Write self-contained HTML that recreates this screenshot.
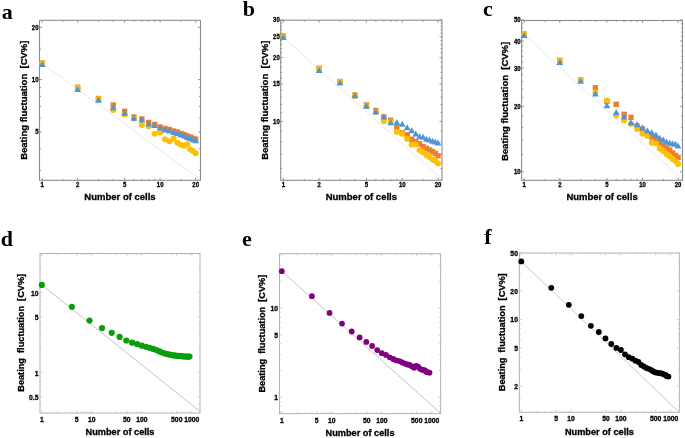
<!DOCTYPE html>
<html><head><meta charset="utf-8"><style>
html,body{margin:0;padding:0;background:#fff;}
svg{display:block;filter:blur(0.55px);}
.t{font-family:"Liberation Sans",sans-serif;font-weight:bold;fill:#000;stroke:#000;stroke-width:0.3px;}
.L{font-family:"Liberation Serif",serif;font-weight:bold;font-size:22px;fill:#000;}
</style></head><body>
<svg width="685" height="438" viewBox="0 0 685 438">
<rect width="685" height="438" fill="#fff"/>
<clipPath id="cpa"><rect x="39.5" y="20.3" width="161" height="160"/></clipPath>
<line x1="42.2" y1="63.2" x2="200.5" y2="179.92" stroke="#e6e6ee" stroke-width="1" clip-path="url(#cpa)"/>
<rect x="39.5" y="20.3" width="161" height="160" fill="none" stroke="#8e8e8e" stroke-width="1.1"/>
<path d="M42.2 180.3v-2.5M42.2 20.3v2.5M77.7 180.3v-2.5M77.7 20.3v2.5M124.63 180.3v-2.5M124.63 20.3v2.5M160.13 180.3v-2.5M160.13 20.3v2.5M195.63 180.3v-2.5M195.63 20.3v2.5M62.97 180.3v-1.5M62.97 20.3v1.5M98.47 180.3v-1.5M98.47 20.3v1.5M113.2 180.3v-1.5M113.2 20.3v1.5M133.97 180.3v-1.5M133.97 20.3v1.5M141.86 180.3v-1.5M141.86 20.3v1.5M148.7 180.3v-1.5M148.7 20.3v1.5M154.73 180.3v-1.5M154.73 20.3v1.5M180.89 180.3v-1.5M180.89 20.3v1.5M39.5 131.95h2.5M200.5 131.95h-2.5M39.5 79.6h2.5M200.5 79.6h-2.5M39.5 27.25h2.5M200.5 27.25h-2.5M39.5 170.53h1.5M200.5 170.53h-1.5M39.5 148.8h1.5M200.5 148.8h-1.5M39.5 118.18h1.5M200.5 118.18h-1.5M39.5 106.54h1.5M200.5 106.54h-1.5M39.5 96.45h1.5M200.5 96.45h-1.5M39.5 87.56h1.5M200.5 87.56h-1.5M39.5 48.98h1.5M200.5 48.98h-1.5" stroke="#808080" stroke-width="0.8" fill="none"/>
<text transform="translate(42.2 187) scale(0.88 1)" font-size="6.8" text-anchor="middle" class="t">1</text>
<text transform="translate(77.7 187) scale(0.88 1)" font-size="6.8" text-anchor="middle" class="t">2</text>
<text transform="translate(124.63 187) scale(0.88 1)" font-size="6.8" text-anchor="middle" class="t">5</text>
<text transform="translate(160.13 187) scale(0.88 1)" font-size="6.8" text-anchor="middle" class="t">10</text>
<text transform="translate(195.63 187) scale(0.88 1)" font-size="6.8" text-anchor="middle" class="t">20</text>
<text transform="translate(38.5 134.47) scale(0.88 1)" font-size="6.8" text-anchor="end" class="t">5</text>
<text transform="translate(38.5 82.12) scale(0.88 1)" font-size="6.8" text-anchor="end" class="t">10</text>
<text transform="translate(38.5 29.77) scale(0.88 1)" font-size="6.8" text-anchor="end" class="t">20</text>
<text x="120" y="199.5" font-size="9.5" text-anchor="middle" class="t">Number of cells</text>
<text transform="translate(27.2 100.2) rotate(-90)" x="0" y="0" font-size="9.5" text-anchor="middle" class="t" xml:space="preserve">Beating fluctuation  [CV%]</text>
<text x="1.8" y="18.5" class="L">a</text>
<rect x="39.5" y="60.3" width="5.4" height="5.4" fill="#ED7D31"/>
<rect x="75" y="84.6" width="5.4" height="5.4" fill="#ED7D31"/>
<rect x="95.77" y="95.8" width="5.4" height="5.4" fill="#ED7D31"/>
<rect x="110.5" y="102.3" width="5.4" height="5.4" fill="#ED7D31"/>
<rect x="121.93" y="108.6" width="5.4" height="5.4" fill="#ED7D31"/>
<rect x="131.27" y="114.3" width="5.4" height="5.4" fill="#ED7D31"/>
<rect x="139.16" y="116.3" width="5.4" height="5.4" fill="#ED7D31"/>
<rect x="146" y="119.8" width="5.4" height="5.4" fill="#ED7D31"/>
<rect x="152.03" y="121.8" width="5.4" height="5.4" fill="#ED7D31"/>
<rect x="157.43" y="124.3" width="5.4" height="5.4" fill="#ED7D31"/>
<rect x="162.31" y="125.8" width="5.4" height="5.4" fill="#ED7D31"/>
<rect x="166.77" y="126.8" width="5.4" height="5.4" fill="#ED7D31"/>
<rect x="170.87" y="128.3" width="5.4" height="5.4" fill="#ED7D31"/>
<rect x="174.66" y="129.3" width="5.4" height="5.4" fill="#ED7D31"/>
<rect x="178.19" y="130.8" width="5.4" height="5.4" fill="#ED7D31"/>
<rect x="181.5" y="131.9" width="5.4" height="5.4" fill="#ED7D31"/>
<rect x="184.6" y="133.3" width="5.4" height="5.4" fill="#ED7D31"/>
<rect x="187.53" y="134.3" width="5.4" height="5.4" fill="#ED7D31"/>
<rect x="190.3" y="135.5" width="5.4" height="5.4" fill="#ED7D31"/>
<rect x="192.93" y="136.5" width="5.4" height="5.4" fill="#ED7D31"/>
<circle cx="42.2" cy="63.5" r="3" fill="#FFC000"/>
<circle cx="77.7" cy="88" r="3" fill="#FFC000"/>
<circle cx="98.47" cy="99" r="3" fill="#FFC000"/>
<circle cx="113.2" cy="110" r="3" fill="#FFC000"/>
<circle cx="124.63" cy="114.5" r="3" fill="#FFC000"/>
<circle cx="133.97" cy="118.5" r="3" fill="#FFC000"/>
<circle cx="141.86" cy="125" r="3" fill="#FFC000"/>
<circle cx="148.7" cy="126.3" r="3" fill="#FFC000"/>
<circle cx="154.73" cy="133.7" r="3" fill="#FFC000"/>
<circle cx="160.13" cy="132.5" r="3" fill="#FFC000"/>
<circle cx="165.01" cy="139.2" r="3" fill="#FFC000"/>
<circle cx="169.47" cy="141.2" r="3" fill="#FFC000"/>
<circle cx="173.57" cy="138.6" r="3" fill="#FFC000"/>
<circle cx="177.36" cy="142.7" r="3" fill="#FFC000"/>
<circle cx="180.89" cy="144.8" r="3" fill="#FFC000"/>
<circle cx="184.2" cy="145.8" r="3" fill="#FFC000"/>
<circle cx="187.3" cy="144.3" r="3" fill="#FFC000"/>
<circle cx="190.23" cy="149.4" r="3" fill="#FFC000"/>
<circle cx="193" cy="151" r="3" fill="#FFC000"/>
<circle cx="195.63" cy="153.2" r="3" fill="#FFC000"/>
<path d="M42.2 61L45.56 67L38.84 67Z" fill="#4F95D6"/>
<path d="M77.7 86L81.06 92L74.34 92Z" fill="#4F95D6"/>
<path d="M98.47 96.8L101.83 102.8L95.11 102.8Z" fill="#4F95D6"/>
<path d="M113.2 104.3L116.56 110.3L109.84 110.3Z" fill="#4F95D6"/>
<path d="M124.63 109.8L127.99 115.8L121.27 115.8Z" fill="#4F95D6"/>
<path d="M133.97 114.8L137.33 120.8L130.61 120.8Z" fill="#4F95D6"/>
<path d="M141.86 116.6L145.22 122.6L138.5 122.6Z" fill="#4F95D6"/>
<path d="M148.7 120.5L152.06 126.5L145.34 126.5Z" fill="#4F95D6"/>
<path d="M154.73 122L158.09 128L151.37 128Z" fill="#4F95D6"/>
<path d="M160.13 124.5L163.49 130.5L156.77 130.5Z" fill="#4F95D6"/>
<path d="M165.01 126.4L168.37 132.4L161.65 132.4Z" fill="#4F95D6"/>
<path d="M169.47 127.4L172.83 133.4L166.11 133.4Z" fill="#4F95D6"/>
<path d="M173.57 129L176.93 135L170.21 135Z" fill="#4F95D6"/>
<path d="M177.36 130L180.72 136L174 136Z" fill="#4F95D6"/>
<path d="M180.89 131.5L184.25 137.5L177.53 137.5Z" fill="#4F95D6"/>
<path d="M184.2 132.6L187.56 138.6L180.84 138.6Z" fill="#4F95D6"/>
<path d="M187.3 134L190.66 140L183.94 140Z" fill="#4F95D6"/>
<path d="M190.23 135L193.59 141L186.87 141Z" fill="#4F95D6"/>
<path d="M193 136.2L196.36 142.2L189.64 142.2Z" fill="#4F95D6"/>
<path d="M195.63 137.2L198.99 143.2L192.27 143.2Z" fill="#4F95D6"/>
<clipPath id="cpb"><rect x="280.7" y="20.2" width="161.3" height="160.1"/></clipPath>
<line x1="283.3" y1="37.4" x2="442" y2="179.25" stroke="#e6e6ee" stroke-width="1" clip-path="url(#cpb)"/>
<rect x="280.7" y="20.2" width="161.3" height="160.1" fill="none" stroke="#8e8e8e" stroke-width="1.1"/>
<path d="M283.3 180.3v-2.5M283.3 20.2v2.5M319.1 180.3v-2.5M319.1 20.2v2.5M366.43 180.3v-2.5M366.43 20.2v2.5M402.23 180.3v-2.5M402.23 20.2v2.5M438.03 180.3v-2.5M438.03 20.2v2.5M304.24 180.3v-1.5M304.24 20.2v1.5M340.04 180.3v-1.5M340.04 20.2v1.5M354.9 180.3v-1.5M354.9 20.2v1.5M375.84 180.3v-1.5M375.84 20.2v1.5M383.8 180.3v-1.5M383.8 20.2v1.5M390.7 180.3v-1.5M390.7 20.2v1.5M396.78 180.3v-1.5M396.78 20.2v1.5M423.17 180.3v-1.5M423.17 20.2v1.5M280.7 121.4h2.5M442 121.4h-2.5M280.7 83.96h2.5M442 83.96h-2.5M280.7 57.4h2.5M442 57.4h-2.5M280.7 36.8h2.5M442 36.8h-2.5M280.7 19.96h2.5M442 19.96h-2.5M280.7 168.57h1.5M442 168.57h-1.5M280.7 154.33h1.5M442 154.33h-1.5M280.7 142h1.5M442 142h-1.5M280.7 131.13h1.5M442 131.13h-1.5M280.7 112.6h1.5M442 112.6h-1.5M280.7 104.57h1.5M442 104.57h-1.5M280.7 97.18h1.5M442 97.18h-1.5M280.7 90.33h1.5M442 90.33h-1.5M280.7 78h1.5M442 78h-1.5M280.7 72.41h1.5M442 72.41h-1.5M280.7 67.13h1.5M442 67.13h-1.5M280.7 62.14h1.5M442 62.14h-1.5M280.7 52.9h1.5M442 52.9h-1.5M280.7 48.6h1.5M442 48.6h-1.5M280.7 44.5h1.5M442 44.5h-1.5M280.7 40.57h1.5M442 40.57h-1.5M280.7 33.18h1.5M442 33.18h-1.5M280.7 29.69h1.5M442 29.69h-1.5M280.7 26.33h1.5M442 26.33h-1.5M280.7 23.09h1.5M442 23.09h-1.5" stroke="#808080" stroke-width="0.8" fill="none"/>
<text transform="translate(283.3 187) scale(0.88 1)" font-size="6.8" text-anchor="middle" class="t">1</text>
<text transform="translate(319.1 187) scale(0.88 1)" font-size="6.8" text-anchor="middle" class="t">2</text>
<text transform="translate(366.43 187) scale(0.88 1)" font-size="6.8" text-anchor="middle" class="t">5</text>
<text transform="translate(402.23 187) scale(0.88 1)" font-size="6.8" text-anchor="middle" class="t">10</text>
<text transform="translate(438.03 187) scale(0.88 1)" font-size="6.8" text-anchor="middle" class="t">20</text>
<text transform="translate(279.7 123.92) scale(0.88 1)" font-size="6.8" text-anchor="end" class="t">10</text>
<text transform="translate(279.7 86.48) scale(0.88 1)" font-size="6.8" text-anchor="end" class="t">15</text>
<text transform="translate(279.7 59.92) scale(0.88 1)" font-size="6.8" text-anchor="end" class="t">20</text>
<text transform="translate(279.7 39.31) scale(0.88 1)" font-size="6.8" text-anchor="end" class="t">25</text>
<text transform="translate(279.7 22.48) scale(0.88 1)" font-size="6.8" text-anchor="end" class="t">30</text>
<text x="361.35" y="199.5" font-size="9.5" text-anchor="middle" class="t">Number of cells</text>
<text transform="translate(268.3 100.2) rotate(-90)" x="0" y="0" font-size="9.5" text-anchor="middle" class="t" xml:space="preserve">Beating fluctuation  [CV%]</text>
<text x="242.8" y="16.2" class="L">b</text>
<rect x="280.6" y="33.3" width="5.4" height="5.4" fill="#ED7D31"/>
<rect x="316.4" y="65.6" width="5.4" height="5.4" fill="#ED7D31"/>
<rect x="337.34" y="78.8" width="5.4" height="5.4" fill="#ED7D31"/>
<rect x="352.2" y="92.3" width="5.4" height="5.4" fill="#ED7D31"/>
<rect x="363.73" y="102.3" width="5.4" height="5.4" fill="#ED7D31"/>
<rect x="373.14" y="107.8" width="5.4" height="5.4" fill="#ED7D31"/>
<rect x="381.1" y="114.3" width="5.4" height="5.4" fill="#ED7D31"/>
<rect x="388" y="117.5" width="5.4" height="5.4" fill="#ED7D31"/>
<rect x="394.08" y="124.3" width="5.4" height="5.4" fill="#ED7D31"/>
<rect x="399.53" y="130.2" width="5.4" height="5.4" fill="#ED7D31"/>
<rect x="404.45" y="132.1" width="5.4" height="5.4" fill="#ED7D31"/>
<rect x="408.94" y="136.6" width="5.4" height="5.4" fill="#ED7D31"/>
<rect x="413.08" y="138.9" width="5.4" height="5.4" fill="#ED7D31"/>
<rect x="416.9" y="141.1" width="5.4" height="5.4" fill="#ED7D31"/>
<rect x="420.47" y="143.7" width="5.4" height="5.4" fill="#ED7D31"/>
<rect x="423.8" y="145.8" width="5.4" height="5.4" fill="#ED7D31"/>
<rect x="426.93" y="147.3" width="5.4" height="5.4" fill="#ED7D31"/>
<rect x="429.88" y="148.8" width="5.4" height="5.4" fill="#ED7D31"/>
<rect x="432.68" y="150.8" width="5.4" height="5.4" fill="#ED7D31"/>
<rect x="435.33" y="153.1" width="5.4" height="5.4" fill="#ED7D31"/>
<circle cx="283.3" cy="36.8" r="3" fill="#FFC000"/>
<circle cx="319.1" cy="69" r="3" fill="#FFC000"/>
<circle cx="340.04" cy="82" r="3" fill="#FFC000"/>
<circle cx="354.9" cy="96" r="3" fill="#FFC000"/>
<circle cx="366.43" cy="106" r="3" fill="#FFC000"/>
<circle cx="375.84" cy="112" r="3" fill="#FFC000"/>
<circle cx="383.8" cy="121.2" r="3" fill="#FFC000"/>
<circle cx="390.7" cy="122" r="3" fill="#FFC000"/>
<circle cx="396.78" cy="131.9" r="3" fill="#FFC000"/>
<circle cx="402.23" cy="133.8" r="3" fill="#FFC000"/>
<circle cx="407.15" cy="138.7" r="3" fill="#FFC000"/>
<circle cx="411.64" cy="144.5" r="3" fill="#FFC000"/>
<circle cx="415.78" cy="144.5" r="3" fill="#FFC000"/>
<circle cx="419.6" cy="150.3" r="3" fill="#FFC000"/>
<circle cx="423.17" cy="152.6" r="3" fill="#FFC000"/>
<circle cx="426.5" cy="155.2" r="3" fill="#FFC000"/>
<circle cx="429.63" cy="157" r="3" fill="#FFC000"/>
<circle cx="432.58" cy="159.6" r="3" fill="#FFC000"/>
<circle cx="435.38" cy="161" r="3" fill="#FFC000"/>
<circle cx="438.03" cy="163.5" r="3" fill="#FFC000"/>
<path d="M283.3 34L286.66 40L279.94 40Z" fill="#4F95D6"/>
<path d="M319.1 67L322.46 73L315.74 73Z" fill="#4F95D6"/>
<path d="M340.04 79.6L343.4 85.6L336.68 85.6Z" fill="#4F95D6"/>
<path d="M354.9 92.3L358.26 98.3L351.54 98.3Z" fill="#4F95D6"/>
<path d="M366.43 102.7L369.79 108.7L363.07 108.7Z" fill="#4F95D6"/>
<path d="M375.84 108.5L379.2 114.5L372.48 114.5Z" fill="#4F95D6"/>
<path d="M383.8 113.4L387.16 119.4L380.44 119.4Z" fill="#4F95D6"/>
<path d="M390.7 119.2L394.06 125.2L387.34 125.2Z" fill="#4F95D6"/>
<path d="M396.78 119L400.14 125L393.42 125Z" fill="#4F95D6"/>
<path d="M402.23 120.8L405.59 126.8L398.87 126.8Z" fill="#4F95D6"/>
<path d="M407.15 124.2L410.51 130.2L403.79 130.2Z" fill="#4F95D6"/>
<path d="M411.64 127.3L415 133.3L408.28 133.3Z" fill="#4F95D6"/>
<path d="M415.78 130.5L419.14 136.5L412.42 136.5Z" fill="#4F95D6"/>
<path d="M419.6 133L422.96 139L416.24 139Z" fill="#4F95D6"/>
<path d="M423.17 133.8L426.53 139.8L419.81 139.8Z" fill="#4F95D6"/>
<path d="M426.5 135.8L429.86 141.8L423.14 141.8Z" fill="#4F95D6"/>
<path d="M429.63 136.6L432.99 142.6L426.27 142.6Z" fill="#4F95D6"/>
<path d="M432.58 137.8L435.94 143.8L429.22 143.8Z" fill="#4F95D6"/>
<path d="M435.38 138.5L438.74 144.5L432.02 144.5Z" fill="#4F95D6"/>
<path d="M438.03 139.5L441.39 145.5L434.67 145.5Z" fill="#4F95D6"/>
<clipPath id="cpc"><rect x="521.6" y="20.5" width="160.9" height="159.8"/></clipPath>
<line x1="524.2" y1="34.6" x2="682.5" y2="180" stroke="#e6e6ee" stroke-width="1" clip-path="url(#cpc)"/>
<rect x="521.6" y="20.5" width="160.9" height="159.8" fill="none" stroke="#8e8e8e" stroke-width="1.1"/>
<path d="M524.2 180.3v-2.5M524.2 20.5v2.5M559.8 180.3v-2.5M559.8 20.5v2.5M606.86 180.3v-2.5M606.86 20.5v2.5M642.46 180.3v-2.5M642.46 20.5v2.5M678.06 180.3v-2.5M678.06 20.5v2.5M545.02 180.3v-1.5M545.02 20.5v1.5M580.62 180.3v-1.5M580.62 20.5v1.5M595.4 180.3v-1.5M595.4 20.5v1.5M616.22 180.3v-1.5M616.22 20.5v1.5M624.14 180.3v-1.5M624.14 20.5v1.5M631 180.3v-1.5M631 20.5v1.5M637.05 180.3v-1.5M637.05 20.5v1.5M663.29 180.3v-1.5M663.29 20.5v1.5M521.6 171.8h2.5M682.5 171.8h-2.5M521.6 106.4h2.5M682.5 106.4h-2.5M521.6 68.14h2.5M682.5 68.14h-2.5M521.6 41h2.5M682.5 41h-2.5M521.6 19.95h2.5M682.5 19.95h-2.5M521.6 154.6h1.5M682.5 154.6h-1.5M521.6 140.05h1.5M682.5 140.05h-1.5M521.6 127.45h1.5M682.5 127.45h-1.5M521.6 116.34h1.5M682.5 116.34h-1.5M521.6 97.41h1.5M682.5 97.41h-1.5M521.6 89.2h1.5M682.5 89.2h-1.5M521.6 81.65h1.5M682.5 81.65h-1.5M521.6 74.65h1.5M682.5 74.65h-1.5M521.6 62.05h1.5M682.5 62.05h-1.5M521.6 56.33h1.5M682.5 56.33h-1.5M521.6 50.94h1.5M682.5 50.94h-1.5M521.6 45.84h1.5M682.5 45.84h-1.5M521.6 36.4h1.5M682.5 36.4h-1.5M521.6 32.01h1.5M682.5 32.01h-1.5M521.6 27.81h1.5M682.5 27.81h-1.5M521.6 23.8h1.5M682.5 23.8h-1.5" stroke="#808080" stroke-width="0.8" fill="none"/>
<text transform="translate(524.2 187) scale(0.88 1)" font-size="6.8" text-anchor="middle" class="t">1</text>
<text transform="translate(559.8 187) scale(0.88 1)" font-size="6.8" text-anchor="middle" class="t">2</text>
<text transform="translate(606.86 187) scale(0.88 1)" font-size="6.8" text-anchor="middle" class="t">5</text>
<text transform="translate(642.46 187) scale(0.88 1)" font-size="6.8" text-anchor="middle" class="t">10</text>
<text transform="translate(678.06 187) scale(0.88 1)" font-size="6.8" text-anchor="middle" class="t">20</text>
<text transform="translate(520.6 174.32) scale(0.88 1)" font-size="6.8" text-anchor="end" class="t">10</text>
<text transform="translate(520.6 108.92) scale(0.88 1)" font-size="6.8" text-anchor="end" class="t">20</text>
<text transform="translate(520.6 70.66) scale(0.88 1)" font-size="6.8" text-anchor="end" class="t">30</text>
<text transform="translate(520.6 43.52) scale(0.88 1)" font-size="6.8" text-anchor="end" class="t">40</text>
<text transform="translate(520.6 22.46) scale(0.88 1)" font-size="6.8" text-anchor="end" class="t">50</text>
<text x="602.05" y="199.5" font-size="9.5" text-anchor="middle" class="t">Number of cells</text>
<text transform="translate(508 101.4) rotate(-90)" x="0" y="0" font-size="9.5" text-anchor="middle" class="t" xml:space="preserve">Beating fluctuation  [CV%]</text>
<text x="483" y="16.2" class="L">c</text>
<rect x="521.5" y="31.3" width="5.4" height="5.4" fill="#ED7D31"/>
<rect x="557.1" y="57.7" width="5.4" height="5.4" fill="#ED7D31"/>
<rect x="577.92" y="77.1" width="5.4" height="5.4" fill="#ED7D31"/>
<rect x="592.7" y="85.1" width="5.4" height="5.4" fill="#ED7D31"/>
<rect x="604.16" y="98.8" width="5.4" height="5.4" fill="#ED7D31"/>
<rect x="613.52" y="101.6" width="5.4" height="5.4" fill="#ED7D31"/>
<rect x="621.44" y="111.7" width="5.4" height="5.4" fill="#ED7D31"/>
<rect x="628.3" y="114.6" width="5.4" height="5.4" fill="#ED7D31"/>
<rect x="634.35" y="123.3" width="5.4" height="5.4" fill="#ED7D31"/>
<rect x="639.76" y="126.3" width="5.4" height="5.4" fill="#ED7D31"/>
<rect x="644.66" y="131.3" width="5.4" height="5.4" fill="#ED7D31"/>
<rect x="649.12" y="134.3" width="5.4" height="5.4" fill="#ED7D31"/>
<rect x="653.24" y="135.8" width="5.4" height="5.4" fill="#ED7D31"/>
<rect x="657.04" y="140.3" width="5.4" height="5.4" fill="#ED7D31"/>
<rect x="660.59" y="142.8" width="5.4" height="5.4" fill="#ED7D31"/>
<rect x="663.9" y="145.3" width="5.4" height="5.4" fill="#ED7D31"/>
<rect x="667.01" y="147.3" width="5.4" height="5.4" fill="#ED7D31"/>
<rect x="669.95" y="150.3" width="5.4" height="5.4" fill="#ED7D31"/>
<rect x="672.73" y="152.8" width="5.4" height="5.4" fill="#ED7D31"/>
<rect x="675.36" y="154.8" width="5.4" height="5.4" fill="#ED7D31"/>
<circle cx="524.2" cy="34.6" r="3" fill="#FFC000"/>
<circle cx="559.8" cy="61" r="3" fill="#FFC000"/>
<circle cx="580.62" cy="80" r="3" fill="#FFC000"/>
<circle cx="595.4" cy="92.4" r="3" fill="#FFC000"/>
<circle cx="606.86" cy="100.4" r="3" fill="#FFC000"/>
<circle cx="616.22" cy="115.4" r="3" fill="#FFC000"/>
<circle cx="624.14" cy="120.2" r="3" fill="#FFC000"/>
<circle cx="631" cy="124" r="3" fill="#FFC000"/>
<circle cx="637.05" cy="129" r="3" fill="#FFC000"/>
<circle cx="642.46" cy="133.8" r="3" fill="#FFC000"/>
<circle cx="647.36" cy="135.8" r="3" fill="#FFC000"/>
<circle cx="651.82" cy="142.8" r="3" fill="#FFC000"/>
<circle cx="655.94" cy="143.6" r="3" fill="#FFC000"/>
<circle cx="659.74" cy="148.4" r="3" fill="#FFC000"/>
<circle cx="663.29" cy="151.3" r="3" fill="#FFC000"/>
<circle cx="666.6" cy="154.2" r="3" fill="#FFC000"/>
<circle cx="669.71" cy="156.2" r="3" fill="#FFC000"/>
<circle cx="672.65" cy="159" r="3" fill="#FFC000"/>
<circle cx="675.43" cy="161" r="3" fill="#FFC000"/>
<circle cx="678.06" cy="163.9" r="3" fill="#FFC000"/>
<path d="M524.2 32L527.56 38L520.84 38Z" fill="#4F95D6"/>
<path d="M559.8 59L563.16 65L556.44 65Z" fill="#4F95D6"/>
<path d="M580.62 77.7L583.98 83.7L577.26 83.7Z" fill="#4F95D6"/>
<path d="M595.4 90.5L598.76 96.5L592.04 96.5Z" fill="#4F95D6"/>
<path d="M606.86 102.3L610.22 108.3L603.5 108.3Z" fill="#4F95D6"/>
<path d="M616.22 109L619.58 115L612.86 115Z" fill="#4F95D6"/>
<path d="M624.14 113.4L627.5 119.4L620.78 119.4Z" fill="#4F95D6"/>
<path d="M631 119.2L634.36 125.2L627.64 125.2Z" fill="#4F95D6"/>
<path d="M637.05 121.2L640.41 127.2L633.69 127.2Z" fill="#4F95D6"/>
<path d="M642.46 124.6L645.82 130.6L639.1 130.6Z" fill="#4F95D6"/>
<path d="M647.36 127.3L650.72 133.3L644 133.3Z" fill="#4F95D6"/>
<path d="M651.82 129.2L655.18 135.2L648.46 135.2Z" fill="#4F95D6"/>
<path d="M655.94 131.4L659.3 137.4L652.58 137.4Z" fill="#4F95D6"/>
<path d="M659.74 134.7L663.1 140.7L656.38 140.7Z" fill="#4F95D6"/>
<path d="M663.29 136.4L666.65 142.4L659.93 142.4Z" fill="#4F95D6"/>
<path d="M666.6 138.5L669.96 144.5L663.24 144.5Z" fill="#4F95D6"/>
<path d="M669.71 139.4L673.07 145.4L666.35 145.4Z" fill="#4F95D6"/>
<path d="M672.65 140.2L676.01 146.2L669.29 146.2Z" fill="#4F95D6"/>
<path d="M675.43 140.8L678.79 146.8L672.07 146.8Z" fill="#4F95D6"/>
<path d="M678.06 142.4L681.42 148.4L674.7 148.4Z" fill="#4F95D6"/>
<clipPath id="cpd"><rect x="40" y="253.5" width="160" height="159.5"/></clipPath>
<line x1="41.8" y1="284.9" x2="200" y2="411.46" stroke="#bdbdbd" stroke-width="0.9" clip-path="url(#cpd)"/>
<rect x="40" y="253.5" width="160" height="159.5" fill="none" stroke="#b4b4b4" stroke-width="1"/>
<path d="M41.8 413v-2.5M41.8 253.5v2.5M76.75 413v-2.5M76.75 253.5v2.5M91.8 413v-2.5M91.8 253.5v2.5M126.75 413v-2.5M126.75 253.5v2.5M141.8 413v-2.5M141.8 253.5v2.5M176.75 413v-2.5M176.75 253.5v2.5M191.8 413v-2.5M191.8 253.5v2.5M56.85 413v-1.5M56.85 253.5v1.5M65.66 413v-1.5M65.66 253.5v1.5M71.9 413v-1.5M71.9 253.5v1.5M80.71 413v-1.5M80.71 253.5v1.5M84.05 413v-1.5M84.05 253.5v1.5M86.95 413v-1.5M86.95 253.5v1.5M89.51 413v-1.5M89.51 253.5v1.5M106.85 413v-1.5M106.85 253.5v1.5M115.66 413v-1.5M115.66 253.5v1.5M121.9 413v-1.5M121.9 253.5v1.5M130.71 413v-1.5M130.71 253.5v1.5M134.05 413v-1.5M134.05 253.5v1.5M136.95 413v-1.5M136.95 253.5v1.5M139.51 413v-1.5M139.51 253.5v1.5M156.85 413v-1.5M156.85 253.5v1.5M165.66 413v-1.5M165.66 253.5v1.5M171.9 413v-1.5M171.9 253.5v1.5M180.71 413v-1.5M180.71 253.5v1.5M184.05 413v-1.5M184.05 253.5v1.5M186.95 413v-1.5M186.95 253.5v1.5M189.51 413v-1.5M189.51 253.5v1.5M40 396.68h2.5M200 396.68h-2.5M40 372.6h2.5M200 372.6h-2.5M40 316.68h2.5M200 316.68h-2.5M40 292.6h2.5M200 292.6h-2.5M40 404.44h1.5M200 404.44h-1.5M40 390.35h1.5M200 390.35h-1.5M40 384.99h1.5M200 384.99h-1.5M40 380.35h1.5M200 380.35h-1.5M40 376.26h1.5M200 376.26h-1.5M40 348.52h1.5M200 348.52h-1.5M40 334.43h1.5M200 334.43h-1.5M40 324.44h1.5M200 324.44h-1.5M40 310.35h1.5M200 310.35h-1.5M40 304.99h1.5M200 304.99h-1.5M40 300.35h1.5M200 300.35h-1.5M40 296.26h1.5M200 296.26h-1.5M40 268.52h1.5M200 268.52h-1.5M40 254.43h1.5M200 254.43h-1.5" stroke="#c4c4c4" stroke-width="0.8" fill="none"/>
<text transform="translate(41.8 421.9) scale(0.97 1)" font-size="7" text-anchor="middle" class="t">1</text>
<text transform="translate(76.75 421.9) scale(0.97 1)" font-size="7" text-anchor="middle" class="t">5</text>
<text transform="translate(91.8 421.9) scale(0.97 1)" font-size="7" text-anchor="middle" class="t">10</text>
<text transform="translate(126.75 421.9) scale(0.97 1)" font-size="7" text-anchor="middle" class="t">50</text>
<text transform="translate(141.8 421.9) scale(0.97 1)" font-size="7" text-anchor="middle" class="t">100</text>
<text transform="translate(176.75 421.9) scale(0.97 1)" font-size="7" text-anchor="middle" class="t">500</text>
<text transform="translate(191.8 421.9) scale(0.97 1)" font-size="7" text-anchor="middle" class="t">1000</text>
<text transform="translate(38.5 399.62) scale(0.97 1)" font-size="7" text-anchor="end" class="t">0.5</text>
<text transform="translate(38.5 375.54) scale(0.97 1)" font-size="7" text-anchor="end" class="t">1</text>
<text transform="translate(38.5 319.62) scale(0.97 1)" font-size="7" text-anchor="end" class="t">5</text>
<text transform="translate(38.5 295.54) scale(0.97 1)" font-size="7" text-anchor="end" class="t">10</text>
<text x="120" y="434.7" font-size="9.2" text-anchor="middle" class="t">Number of cells</text>
<text transform="translate(24.3 332.8) rotate(-90)" x="0" y="0" font-size="9.2" text-anchor="middle" class="t" xml:space="preserve">Beating  fluctuation  [CV%]</text>
<text x="0.8" y="245.5" class="L">d</text>
<circle cx="41.8" cy="284.9" r="3.1" fill="#0a9e0a"/>
<circle cx="71.9" cy="306.8" r="3.1" fill="#0a9e0a"/>
<circle cx="89.51" cy="320.6" r="3.1" fill="#0a9e0a"/>
<circle cx="102.01" cy="328.1" r="3.1" fill="#0a9e0a"/>
<circle cx="111.7" cy="332.8" r="3.1" fill="#0a9e0a"/>
<circle cx="119.62" cy="336.9" r="3.1" fill="#0a9e0a"/>
<circle cx="126.31" cy="340.5" r="3.1" fill="#0a9e0a"/>
<circle cx="132.11" cy="342.7" r="3.1" fill="#0a9e0a"/>
<circle cx="137.22" cy="344.2" r="3.1" fill="#0a9e0a"/>
<circle cx="141.8" cy="345.7" r="3.1" fill="#0a9e0a"/>
<circle cx="145.94" cy="346.8" r="3.1" fill="#0a9e0a"/>
<circle cx="149.72" cy="347.8" r="3.1" fill="#0a9e0a"/>
<circle cx="153.19" cy="348.9" r="3.1" fill="#0a9e0a"/>
<circle cx="156.41" cy="350" r="3.1" fill="#0a9e0a"/>
<circle cx="159.41" cy="351.4" r="3.1" fill="#0a9e0a"/>
<circle cx="162.21" cy="352.5" r="3.1" fill="#0a9e0a"/>
<circle cx="164.84" cy="353.5" r="3.1" fill="#0a9e0a"/>
<circle cx="167.33" cy="354.1" r="3.1" fill="#0a9e0a"/>
<circle cx="169.68" cy="354.6" r="3.1" fill="#0a9e0a"/>
<circle cx="171.9" cy="355" r="3.1" fill="#0a9e0a"/>
<circle cx="174.02" cy="355.4" r="3.1" fill="#0a9e0a"/>
<circle cx="176.04" cy="355.7" r="3.1" fill="#0a9e0a"/>
<circle cx="177.97" cy="356" r="3.1" fill="#0a9e0a"/>
<circle cx="179.82" cy="355.9" r="3.1" fill="#0a9e0a"/>
<circle cx="181.59" cy="356.2" r="3.1" fill="#0a9e0a"/>
<circle cx="183.3" cy="356.3" r="3.1" fill="#0a9e0a"/>
<circle cx="184.94" cy="356.5" r="3.1" fill="#0a9e0a"/>
<circle cx="186.52" cy="356.6" r="3.1" fill="#0a9e0a"/>
<circle cx="188.04" cy="356.6" r="3.1" fill="#0a9e0a"/>
<circle cx="189.51" cy="356.6" r="3.1" fill="#0a9e0a"/>
<clipPath id="cpe"><rect x="279.5" y="253.7" width="161.1" height="159.9"/></clipPath>
<line x1="281.8" y1="271.2" x2="440.6" y2="413.17" stroke="#bdbdbd" stroke-width="0.9" clip-path="url(#cpe)"/>
<rect x="279.5" y="253.7" width="161.1" height="159.9" fill="none" stroke="#b4b4b4" stroke-width="1"/>
<path d="M281.8 413.6v-2.5M281.8 253.7v2.5M316.75 413.6v-2.5M316.75 253.7v2.5M331.8 413.6v-2.5M331.8 253.7v2.5M366.75 413.6v-2.5M366.75 253.7v2.5M381.8 413.6v-2.5M381.8 253.7v2.5M416.75 413.6v-2.5M416.75 253.7v2.5M431.8 413.6v-2.5M431.8 253.7v2.5M296.85 413.6v-1.5M296.85 253.7v1.5M305.66 413.6v-1.5M305.66 253.7v1.5M311.9 413.6v-1.5M311.9 253.7v1.5M320.71 413.6v-1.5M320.71 253.7v1.5M324.05 413.6v-1.5M324.05 253.7v1.5M326.95 413.6v-1.5M326.95 253.7v1.5M329.51 413.6v-1.5M329.51 253.7v1.5M346.85 413.6v-1.5M346.85 253.7v1.5M355.66 413.6v-1.5M355.66 253.7v1.5M361.9 413.6v-1.5M361.9 253.7v1.5M370.71 413.6v-1.5M370.71 253.7v1.5M374.05 413.6v-1.5M374.05 253.7v1.5M376.95 413.6v-1.5M376.95 253.7v1.5M379.51 413.6v-1.5M379.51 253.7v1.5M396.85 413.6v-1.5M396.85 253.7v1.5M405.66 413.6v-1.5M405.66 253.7v1.5M411.9 413.6v-1.5M411.9 253.7v1.5M420.71 413.6v-1.5M420.71 253.7v1.5M424.05 413.6v-1.5M424.05 253.7v1.5M426.95 413.6v-1.5M426.95 253.7v1.5M429.51 413.6v-1.5M429.51 253.7v1.5M279.5 397.4h2.5M440.6 397.4h-2.5M279.5 334.91h2.5M440.6 334.91h-2.5M279.5 308h2.5M440.6 308h-2.5M279.5 411.25h1.5M440.6 411.25h-1.5M279.5 406.06h1.5M440.6 406.06h-1.5M279.5 401.49h1.5M440.6 401.49h-1.5M279.5 370.49h1.5M440.6 370.49h-1.5M279.5 354.75h1.5M440.6 354.75h-1.5M279.5 343.58h1.5M440.6 343.58h-1.5M279.5 327.83h1.5M440.6 327.83h-1.5M279.5 321.85h1.5M440.6 321.85h-1.5M279.5 316.66h1.5M440.6 316.66h-1.5M279.5 312.09h1.5M440.6 312.09h-1.5M279.5 281.09h1.5M440.6 281.09h-1.5M279.5 265.35h1.5M440.6 265.35h-1.5M279.5 254.18h1.5M440.6 254.18h-1.5" stroke="#c4c4c4" stroke-width="0.8" fill="none"/>
<text transform="translate(281.8 422.5) scale(0.97 1)" font-size="7" text-anchor="middle" class="t">1</text>
<text transform="translate(316.75 422.5) scale(0.97 1)" font-size="7" text-anchor="middle" class="t">5</text>
<text transform="translate(331.8 422.5) scale(0.97 1)" font-size="7" text-anchor="middle" class="t">10</text>
<text transform="translate(366.75 422.5) scale(0.97 1)" font-size="7" text-anchor="middle" class="t">50</text>
<text transform="translate(381.8 422.5) scale(0.97 1)" font-size="7" text-anchor="middle" class="t">100</text>
<text transform="translate(416.75 422.5) scale(0.97 1)" font-size="7" text-anchor="middle" class="t">500</text>
<text transform="translate(431.8 422.5) scale(0.97 1)" font-size="7" text-anchor="middle" class="t">1000</text>
<text transform="translate(278 400.34) scale(0.97 1)" font-size="7" text-anchor="end" class="t">1</text>
<text transform="translate(278 337.85) scale(0.97 1)" font-size="7" text-anchor="end" class="t">5</text>
<text transform="translate(278 310.94) scale(0.97 1)" font-size="7" text-anchor="end" class="t">10</text>
<text x="360.05" y="435.9" font-size="9.2" text-anchor="middle" class="t">Number of cells</text>
<text transform="translate(265.3 333.6) rotate(-90)" x="0" y="0" font-size="9.2" text-anchor="middle" class="t" xml:space="preserve">Beating  fluctuation  [CV%]</text>
<text x="242.1" y="245.8" class="L">e</text>
<circle cx="281.8" cy="271.2" r="2.9" fill="#800080"/>
<circle cx="311.9" cy="296.2" r="2.9" fill="#800080"/>
<circle cx="329.51" cy="312.9" r="2.9" fill="#800080"/>
<circle cx="342.01" cy="323.6" r="2.9" fill="#800080"/>
<circle cx="351.7" cy="331.5" r="2.9" fill="#800080"/>
<circle cx="359.62" cy="337.4" r="2.9" fill="#800080"/>
<circle cx="366.31" cy="341.9" r="2.9" fill="#800080"/>
<circle cx="372.11" cy="346" r="2.9" fill="#800080"/>
<circle cx="377.22" cy="350.1" r="2.9" fill="#800080"/>
<circle cx="381.8" cy="353.2" r="2.9" fill="#800080"/>
<circle cx="385.94" cy="354.9" r="2.9" fill="#800080"/>
<circle cx="389.72" cy="357.3" r="2.9" fill="#800080"/>
<circle cx="393.19" cy="359" r="2.9" fill="#800080"/>
<circle cx="396.41" cy="360.4" r="2.9" fill="#800080"/>
<circle cx="399.41" cy="361.1" r="2.9" fill="#800080"/>
<circle cx="402.21" cy="362.5" r="2.9" fill="#800080"/>
<circle cx="404.84" cy="363.6" r="2.9" fill="#800080"/>
<circle cx="407.33" cy="364.5" r="2.9" fill="#800080"/>
<circle cx="409.68" cy="364.9" r="2.9" fill="#800080"/>
<circle cx="411.9" cy="366.3" r="2.9" fill="#800080"/>
<circle cx="414.02" cy="367.7" r="2.9" fill="#800080"/>
<circle cx="416.04" cy="365.9" r="2.9" fill="#800080"/>
<circle cx="417.97" cy="366.6" r="2.9" fill="#800080"/>
<circle cx="419.82" cy="368.6" r="2.9" fill="#800080"/>
<circle cx="421.59" cy="369.6" r="2.9" fill="#800080"/>
<circle cx="423.3" cy="370" r="2.9" fill="#800080"/>
<circle cx="424.94" cy="370.4" r="2.9" fill="#800080"/>
<circle cx="426.52" cy="372" r="2.9" fill="#800080"/>
<circle cx="428.04" cy="372.3" r="2.9" fill="#800080"/>
<circle cx="429.51" cy="372.7" r="2.9" fill="#800080"/>
<clipPath id="cpf"><rect x="519.4" y="253" width="160" height="159.3"/></clipPath>
<line x1="521.3" y1="261.4" x2="679.4" y2="412.36" stroke="#c4c4c4" stroke-width="0.9" clip-path="url(#cpf)"/>
<rect x="519.4" y="253" width="160" height="159.3" fill="none" stroke="#b4b4b4" stroke-width="1"/>
<path d="M521.3 412.3v-2.5M521.3 253v2.5M556.11 412.3v-2.5M556.11 253v2.5M571.1 412.3v-2.5M571.1 253v2.5M605.91 412.3v-2.5M605.91 253v2.5M620.9 412.3v-2.5M620.9 253v2.5M655.71 412.3v-2.5M655.71 253v2.5M670.7 412.3v-2.5M670.7 253v2.5M536.29 412.3v-1.5M536.29 253v1.5M545.06 412.3v-1.5M545.06 253v1.5M551.28 412.3v-1.5M551.28 253v1.5M560.05 412.3v-1.5M560.05 253v1.5M563.39 412.3v-1.5M563.39 253v1.5M566.27 412.3v-1.5M566.27 253v1.5M568.82 412.3v-1.5M568.82 253v1.5M586.09 412.3v-1.5M586.09 253v1.5M594.86 412.3v-1.5M594.86 253v1.5M601.08 412.3v-1.5M601.08 253v1.5M609.85 412.3v-1.5M609.85 253v1.5M613.19 412.3v-1.5M613.19 253v1.5M616.07 412.3v-1.5M616.07 253v1.5M618.62 412.3v-1.5M618.62 253v1.5M635.89 412.3v-1.5M635.89 253v1.5M644.66 412.3v-1.5M644.66 253v1.5M650.88 412.3v-1.5M650.88 253v1.5M659.65 412.3v-1.5M659.65 253v1.5M662.99 412.3v-1.5M662.99 253v1.5M665.87 412.3v-1.5M665.87 253v1.5M668.42 412.3v-1.5M668.42 253v1.5M519.4 385.9h2.5M679.4 385.9h-2.5M519.4 348.06h2.5M679.4 348.06h-2.5M519.4 319.43h2.5M679.4 319.43h-2.5M519.4 290.8h2.5M679.4 290.8h-2.5M519.4 252.96h2.5M679.4 252.96h-2.5M519.4 397.78h1.5M679.4 397.78h-1.5M519.4 369.15h1.5M679.4 369.15h-1.5M519.4 357.27h1.5M679.4 357.27h-1.5M519.4 340.53h1.5M679.4 340.53h-1.5M519.4 334.16h1.5M679.4 334.16h-1.5M519.4 328.64h1.5M679.4 328.64h-1.5M519.4 323.78h1.5M679.4 323.78h-1.5M519.4 274.05h1.5M679.4 274.05h-1.5M519.4 262.17h1.5M679.4 262.17h-1.5" stroke="#c4c4c4" stroke-width="0.8" fill="none"/>
<text transform="translate(521.3 421) scale(0.97 1)" font-size="7" text-anchor="middle" class="t">1</text>
<text transform="translate(556.11 421) scale(0.97 1)" font-size="7" text-anchor="middle" class="t">5</text>
<text transform="translate(571.1 421) scale(0.97 1)" font-size="7" text-anchor="middle" class="t">10</text>
<text transform="translate(605.91 421) scale(0.97 1)" font-size="7" text-anchor="middle" class="t">50</text>
<text transform="translate(620.9 421) scale(0.97 1)" font-size="7" text-anchor="middle" class="t">100</text>
<text transform="translate(655.71 421) scale(0.97 1)" font-size="7" text-anchor="middle" class="t">500</text>
<text transform="translate(670.7 421) scale(0.97 1)" font-size="7" text-anchor="middle" class="t">1000</text>
<text transform="translate(517.9 388.84) scale(0.97 1)" font-size="7" text-anchor="end" class="t">2</text>
<text transform="translate(517.9 351) scale(0.97 1)" font-size="7" text-anchor="end" class="t">5</text>
<text transform="translate(517.9 322.37) scale(0.97 1)" font-size="7" text-anchor="end" class="t">10</text>
<text transform="translate(517.9 293.74) scale(0.97 1)" font-size="7" text-anchor="end" class="t">20</text>
<text transform="translate(517.9 255.9) scale(0.97 1)" font-size="7" text-anchor="end" class="t">50</text>
<text x="599.4" y="434.5" font-size="9.2" text-anchor="middle" class="t">Number of cells</text>
<text transform="translate(504.7 332.3) rotate(-90)" x="0" y="0" font-size="9.2" text-anchor="middle" class="t" xml:space="preserve">Beating  fluctuation  [CV%]</text>
<text x="484.2" y="243.5" class="L">f</text>
<circle cx="521.3" cy="261.4" r="2.9" fill="#000000"/>
<circle cx="551.28" cy="287.8" r="2.9" fill="#000000"/>
<circle cx="568.82" cy="304.8" r="2.9" fill="#000000"/>
<circle cx="581.27" cy="316.1" r="2.9" fill="#000000"/>
<circle cx="590.92" cy="325.8" r="2.9" fill="#000000"/>
<circle cx="598.8" cy="332" r="2.9" fill="#000000"/>
<circle cx="605.47" cy="338.4" r="2.9" fill="#000000"/>
<circle cx="611.25" cy="344" r="2.9" fill="#000000"/>
<circle cx="616.34" cy="347.9" r="2.9" fill="#000000"/>
<circle cx="620.9" cy="350" r="2.9" fill="#000000"/>
<circle cx="625.02" cy="354.3" r="2.9" fill="#000000"/>
<circle cx="628.79" cy="357.2" r="2.9" fill="#000000"/>
<circle cx="632.25" cy="358.7" r="2.9" fill="#000000"/>
<circle cx="635.45" cy="360.7" r="2.9" fill="#000000"/>
<circle cx="638.44" cy="362" r="2.9" fill="#000000"/>
<circle cx="641.23" cy="365" r="2.9" fill="#000000"/>
<circle cx="643.85" cy="366.5" r="2.9" fill="#000000"/>
<circle cx="646.33" cy="367.9" r="2.9" fill="#000000"/>
<circle cx="648.66" cy="368.8" r="2.9" fill="#000000"/>
<circle cx="650.88" cy="369.8" r="2.9" fill="#000000"/>
<circle cx="652.99" cy="371.2" r="2.9" fill="#000000"/>
<circle cx="655.01" cy="372.3" r="2.9" fill="#000000"/>
<circle cx="656.93" cy="372.7" r="2.9" fill="#000000"/>
<circle cx="658.77" cy="373.1" r="2.9" fill="#000000"/>
<circle cx="660.53" cy="373.1" r="2.9" fill="#000000"/>
<circle cx="662.23" cy="373.7" r="2.9" fill="#000000"/>
<circle cx="663.86" cy="374.3" r="2.9" fill="#000000"/>
<circle cx="665.44" cy="375" r="2.9" fill="#000000"/>
<circle cx="666.95" cy="376.2" r="2.9" fill="#000000"/>
<circle cx="668.42" cy="376.6" r="2.9" fill="#000000"/>
</svg>
</body></html>
